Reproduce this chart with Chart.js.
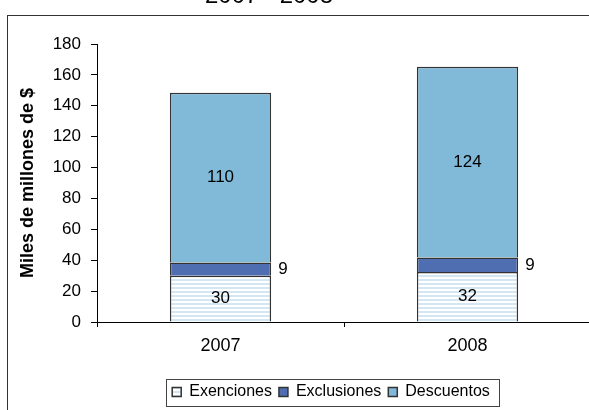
<!DOCTYPE html>
<html>
<head>
<meta charset="utf-8">
<script src="https://cdn.jsdelivr.net/npm/chart.js@4/dist/chart.umd.min.js"></script>
<style>
  html, body { margin: 0; padding: 0; background: #fff; overflow: hidden; width: 589px; height: 410px; }
  .frame { position: absolute; left: 7px; top: 15px; width: 700px; height: 500px; border-left: 1.5px solid #333; border-top: 1.5px solid #333; }
  .wrap { position: absolute; left: 0; top: -15px; width: 600px; height: 425px; }
</style>
</head>
<body>
<div class="frame"></div>
<div class="wrap"><canvas id="chart"></canvas></div>
<script>
const chartTitle = "2007 - 2008";
const years = ["2007", "2008"];
const exenciones = [30, 32.3];
const exclusiones = [8.5, 9.4];
const descuentos = [110, 123.5];
const yTicks = [0, 20, 40, 60, 80, 100, 120, 140, 160, 180];

const font = '"Liberation Sans", Arial, sans-serif';

// relleno rayado para Exenciones
function stripes() {
  const c = document.createElement('canvas');
  c.width = 4; c.height = 4;
  const g = c.getContext('2d');
  g.fillStyle = '#ffffff';
  g.fillRect(0, 0, 4, 4);
  g.fillStyle = '#d3e7f2';
  g.fillRect(0, 2, 4, 2);
  return g.createPattern(c, 'repeat');
}

// titulo (cortado arriba, como en el original)
const topTitle = {
  id: 'topTitle',
  afterDraw(chart) {
    const ctx = chart.ctx;
    ctx.save();
    ctx.font = '24px ' + font;
    ctx.fillStyle = '#000';
    ctx.textAlign = 'center';
    ctx.textBaseline = 'alphabetic';
    ctx.fillText(chartTitle, 269, 18);
    ctx.restore();
  }
};

// la leyenda va algo a la izquierda del centro del area
const legendShift = {
  id: 'legendShift',
  afterLayout(chart) {
    chart.legend.left -= 26;
  }
};

// etiquetas de valor
const valueLabels = {
  id: 'valueLabels',
  afterDatasetsDraw(chart) {
    const ctx = chart.ctx;
    ctx.save();
    ctx.font = '17px ' + font;
    ctx.fillStyle = '#000';
    ctx.textBaseline = 'middle';
    chart.data.datasets.forEach((ds, i) => {
      chart.getDatasetMeta(i).data.forEach((bar, j) => {
        const txt = Math.round(ds.data[j]);
        const cy = (bar.y + bar.base) / 2;
        if (i === 1) {
          ctx.textAlign = 'left';
          ctx.fillText(txt, bar.x + bar.width / 2 + 7, cy);
        } else {
          ctx.textAlign = 'center';
          ctx.fillText(txt, bar.x, cy);
        }
      });
    });
    ctx.restore();
  }
};

// recuadro de la leyenda
const legendBox = {
  id: 'legendBox',
  afterDraw(chart) {
    const boxes = chart.legend.legendHitBoxes;
    if (!boxes.length) return;
    const last = boxes[boxes.length - 1];
    const cy = boxes[0].top + boxes[0].height / 2;
    const l = boxes[0].left - 6;
    const r = last.left + last.width + 9;
    const t = cy - 13;
    const b = cy + 14;
    const ctx = chart.ctx;
    ctx.save();
    ctx.strokeStyle = '#444';
    ctx.lineWidth = 1;
    ctx.strokeRect(Math.round(l) + 0.5, Math.round(t) + 0.5, Math.round(r - l), Math.round(b - t));
    ctx.restore();
  }
};

new Chart(document.getElementById('chart'), {
  type: 'bar',
  data: {
    labels: years,
    datasets: [
      {
        label: 'Exenciones',
        data: exenciones,
        backgroundColor: stripes(),
        borderColor: '#333',
        borderWidth: 1.5,
      },
      {
        label: 'Exclusiones',
        data: exclusiones,
        backgroundColor: '#4f6eb1',
        borderColor: '#333',
        borderWidth: 1.5,
      },
      {
        label: 'Descuentos',
        data: descuentos,
        backgroundColor: '#80bad8',
        borderColor: '#333',
        borderWidth: 1.5,
      }
    ]
  },
  options: {
    responsive: true,
    maintainAspectRatio: false,
    animation: false,
    barPercentage: 0.41,
    categoryPercentage: 1,
    layout: {
      padding: { left: 10, right: 9, top: 59, bottom: 0 }
    },
    plugins: {
      title: { display: false },
      legend: {
        position: 'bottom',
        fullSize: false,
        labels: {
          color: '#000',
          font: { size: 16, family: font },
          boxWidth: 9,
          boxHeight: 9,
          padding: 7,
        }
      },
      tooltip: { enabled: false }
    },
    scales: {
      x: {
        stacked: true,
        afterFit(axis) {
          axis.height = 55;
        },
        grid: {
          display: true,
          drawOnChartArea: false,
          offset: true,
          color: '#000',
          tickLength: 5,
        },
        border: { color: '#000', width: 1 },
        ticks: {
          color: '#000',
          padding: 8,
          font: { size: 18, family: font }
        }
      },
      y: {
        stacked: true,
        min: 0,
        max: 180,
        afterBuildTicks(axis) {
          axis.ticks = yTicks.map(v => ({ value: v }));
        },
        afterFit(axis) {
          axis.width = 87;
        },
        grid: {
          display: true,
          drawOnChartArea: false,
          color: '#000',
          tickLength: 6,
        },
        border: { color: '#000', width: 1 },
        title: {
          display: true,
          text: 'Miles de millones de $',
          color: '#000',
          font: { size: 18, family: font, weight: 'bold' },
          padding: { top: 7, bottom: 0 }
        },
        ticks: {
          color: '#000',
          padding: 10,
          font: { size: 17, family: font }
        }
      }
    }
  },
  plugins: [legendShift, valueLabels, legendBox, topTitle]
});
</script>
</body>
</html>
